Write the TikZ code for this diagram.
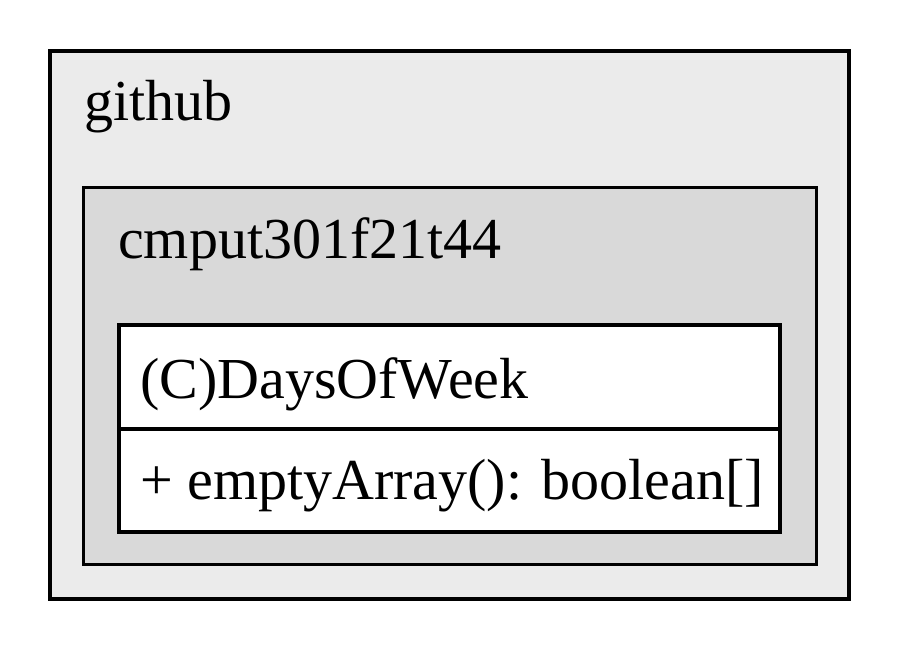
\documentclass[tikz,border=0pt]{standalone}
\usepackage{fontspec}
\setmainfont{Liberation Serif}
\definecolor{pkgouter}{HTML}{EBEBEB}
\definecolor{pkginner}{HTML}{D9D9D9}
\begin{document}
\begin{tikzpicture}[x=1pt,y=-1pt,
  pkgbox/.style={draw=black,line width=3.5pt},
  lbl/.style={anchor=base west,inner sep=0pt,font=\fontsize{58}{58}\selectfont}]
\useasboundingbox (0,0) rectangle (900,650);
% outer package
\draw[pkgbox,fill=pkgouter] (50,51) rectangle (849,599);
\node[lbl] (github) at (84,121) {github};
% inner package
\draw[pkgbox,fill=pkginner] (83.5,187.5) rectangle (816.5,564.5);
\node[lbl] (cmput) at (118,258) {cmput301f21t44};
% class box
\draw[pkgbox,fill=white] (119,325) rectangle (780,532);
\draw[pkgbox] (119,429) -- (780,429);
\node[lbl] (cls) at (140,398) {(C)DaysOfWeek};
\node[lbl] (meth) at (140,499) {+ emptyArray(): boolean[]};
\end{tikzpicture}
\end{document}
